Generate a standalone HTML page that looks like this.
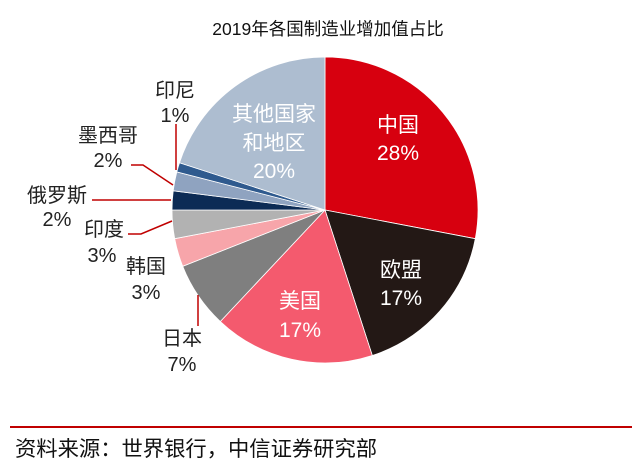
<!DOCTYPE html>
<html><head><meta charset="utf-8"><style>
body{margin:0;background:#fff;}
svg{display:block;font-family:"Liberation Sans","Noto Sans CJK SC",sans-serif;}
</style></head><body>
<svg width="640" height="467" viewBox="0 0 640 467">
<text x="328" y="35" font-size="17.5" text-anchor="middle" fill="#111">2019年各国制造业增加值占比</text>
<g stroke="#fff" stroke-width="0.8">
<path d="M325 210 L325 57 A153 153 0 0 1 475.3 238.7 Z" fill="#d7000f"/>
<path d="M325 210 L475.3 238.7 A153 153 0 0 1 372.3 355.5 Z" fill="#231815"/>
<path d="M325 210 L372.3 355.5 A153 153 0 0 1 220.3 321.5 Z" fill="#f45a6e"/>
<path d="M325 210 L220.3 321.5 A153 153 0 0 1 182.7 266.3 Z" fill="#7f7f7f"/>
<path d="M325 210 L182.7 266.3 A153 153 0 0 1 174.7 238.7 Z" fill="#f7a5aa"/>
<path d="M325 210 L174.7 238.7 A153 153 0 0 1 172 210 Z" fill="#b2b2b2"/>
<path d="M325 210 L172 210 A153 153 0 0 1 173.2 190.8 Z" fill="#0c2b55"/>
<path d="M325 210 L173.2 190.8 A153 153 0 0 1 176.8 171.9 Z" fill="#8fa3c0"/>
<path d="M325 210 L176.8 171.9 A153 153 0 0 1 179.5 162.7 Z" fill="#2f5a8e"/>
<path d="M325 210 L179.5 162.7 A153 153 0 0 1 325 57 Z" fill="#adbdd0"/>
</g>
<g fill="none" stroke="#c00000" stroke-width="1.5">
<path d="M176 124 V170"/>
<path d="M131 165 H143 L173 185"/>
<path d="M92 200 H171"/>
<path d="M128 234 H141 L172 221"/>
<path d="M198 295 V326"/>
</g>
<g font-size="21" text-anchor="middle" fill="#fff">
<text x="398" y="132">中国</text><text x="398" y="160">28%</text>
<text x="401" y="277">欧盟</text><text x="401" y="305">17%</text>
<text x="300" y="308">美国</text><text x="300" y="337">17%</text>
<text x="274" y="121">其他国家</text><text x="274" y="150">和地区</text><text x="274" y="178">20%</text>
</g>
<g font-size="20" text-anchor="middle" fill="#222">
<text x="175" y="97">印尼</text><text x="175" y="122">1%</text>
<text x="108" y="142">墨西哥</text><text x="108" y="167">2%</text>
<text x="57" y="202">俄罗斯</text><text x="57" y="226">2%</text>
<text x="104" y="236">印度</text><text x="102" y="262">3%</text>
<text x="146" y="273">韩国</text><text x="146" y="299">3%</text>
<text x="182" y="345">日本</text><text x="182" y="371">7%</text>
</g>
<line x1="10" y1="427" x2="632" y2="427" stroke="#c00000" stroke-width="2"/>
<text x="15" y="456" font-size="21.3" fill="#111">资料来源：世界银行，中信证券研究部</text>
</svg>
</body></html>
